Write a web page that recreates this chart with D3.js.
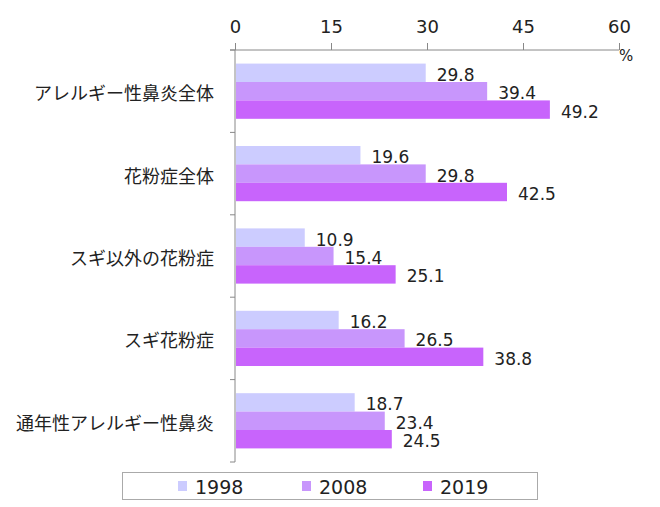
<html>
<head>
<meta charset="utf-8">
<style>
body { margin: 0; background: #fff; }
text { font-family: "DejaVu Sans", "Noto Sans CJK JP", sans-serif; fill: #222; }
text.cat { font-family: "Noto Sans CJK JP", sans-serif; }
</style>
</head>
<body>
<svg id="viz"></svg>
<script src="https://cdn.jsdelivr.net/npm/d3@7"></script>
<script>
var width = 660;
var height = 507;

var categories = ["アレルギー性鼻炎全体", "花粉症全体", "スギ以外の花粉症", "スギ花粉症", "通年性アレルギー性鼻炎"];
var years = ["1998", "2008", "2019"];
var v1998 = [29.8, 19.6, 10.9, 16.2, 18.7];
var v2008 = [39.4, 29.8, 15.4, 26.5, 23.4];
var v2019 = [49.2, 42.5, 25.1, 38.8, 24.5];
var xTicks = [0, 15, 30, 45, 60];
var colors = ["#ccccff", "#c896fc", "#c864fc"];

var series = [v1998, v2008, v2019];

var svg = d3.select("#viz").attr("width", width).attr("height", height);

var x = d3.scaleLinear().domain([0, 60]).range([235, 619]);
var y = d3.scaleBand().domain(categories).range([50, 462]).paddingInner(0.33).paddingOuter(0.165);
var y0 = d3.scaleBand().domain(years).range([0, y.bandwidth()]);

// top axis
var xAxis = svg.append("g")
    .attr("transform", "translate(0,50)")
    .call(d3.axisTop(x).tickValues(xTicks).tickSize(7).tickPadding(10).tickSizeOuter(0));
xAxis.select(".domain").attr("stroke", "#888").attr("d", "M230,0H619");
xAxis.selectAll(".tick line").attr("stroke", "#888");
xAxis.selectAll("text").style("font-size", "18px").attr("fill", "#222");

svg.append("text").attr("x", 619).attr("y", 61).style("font-size", "15px").text("%");

// left axis line with ticks between categories
var bounds = d3.range(categories.length + 1).map(function(i) { return 50 + i * (412 / categories.length); });
svg.append("line").attr("x1", 235).attr("x2", 235).attr("y1", 50).attr("y2", 462).attr("stroke", "#888");
svg.selectAll(".ytick").data(bounds).enter().append("line")
    .attr("x1", 230).attr("x2", 235)
    .attr("y1", function(d) { return d; }).attr("y2", function(d) { return d; })
    .attr("stroke", "#888");

// category labels
svg.selectAll(".cat").data(categories).enter().append("text")
    .attr("class", "cat")
    .attr("x", 214)
    .attr("y", function(d) { return y(d) + y.bandwidth() / 2 + 1; })
    .attr("text-anchor", "end")
    .attr("dominant-baseline", "central")
    .style("font-size", "18px")
    .text(function(d) { return d; });

// bars
series.forEach(function(vals, s) {
    var g = svg.append("g");
    g.selectAll("rect").data(vals).enter().append("rect")
        .attr("x", x(0) + 1)
        .attr("y", function(d, i) { return y(categories[i]) + y0(years[s]); })
        .attr("width", function(d) { return x(d) - x(0) - 1; })
        .attr("height", y0.bandwidth())
        .attr("fill", colors[s]);
    g.selectAll("text").data(vals).enter().append("text")
        .attr("x", function(d) { return x(d) + 11; })
        .attr("y", function(d, i) { return y(categories[i]) + y0(years[s]) + y0.bandwidth() / 2 + 2; })
        .attr("dominant-baseline", "central")
        .style("font-size", "17px")
        .text(function(d) { return d.toFixed(1); });
});

// legend
svg.append("rect").attr("x", 122.5).attr("y", 472.5).attr("width", 415).attr("height", 27)
    .attr("fill", "#fff").attr("stroke", "#aaa");
var legX = [178, 302, 423];
years.forEach(function(yr, i) {
    svg.append("rect").attr("x", legX[i]).attr("y", 481).attr("width", 9).attr("height", 10).attr("fill", colors[i]);
    svg.append("text").attr("x", legX[i] + 17).attr("y", 487)
        .attr("dominant-baseline", "central")
        .style("font-size", "19px")
        .text(yr);
});
</script>
</body>
</html>
